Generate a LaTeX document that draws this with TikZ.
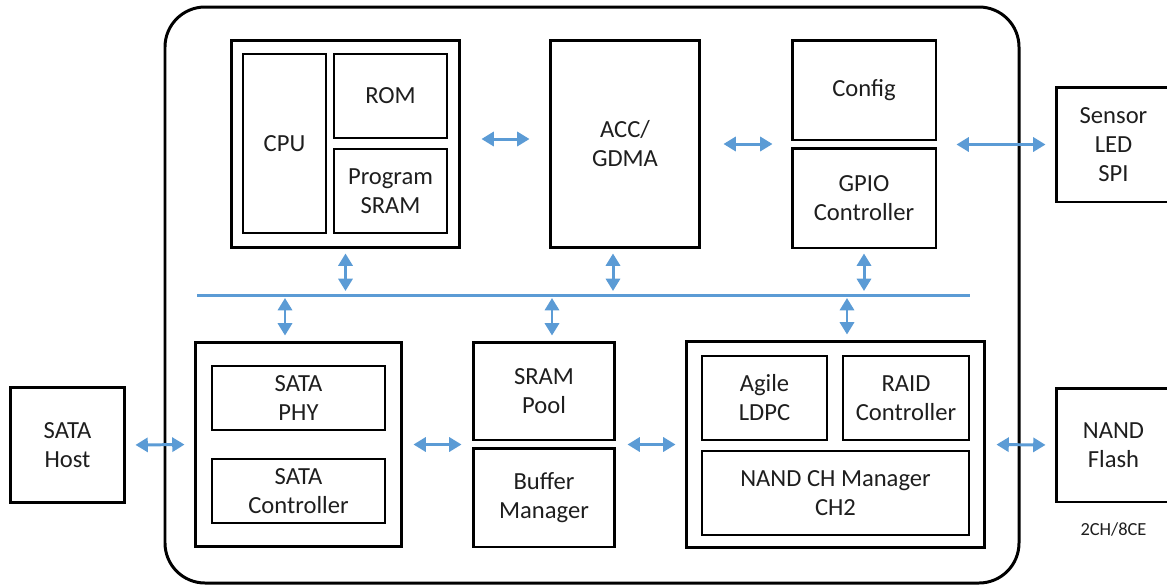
\documentclass[tikz,border=0pt]{standalone}
\usepackage{fontspec}
\setmainfont{Carlito}
\definecolor{busblue}{RGB}{91, 155, 213}
\definecolor{txtgray}{RGB}{30, 30, 30}
\usetikzlibrary{arrows.meta, positioning, calc}

\begin{document}
\begin{tikzpicture}[
  x=0.02cm, y=-0.02cm,
  box/.style={draw, line width=1.7pt, align=center, inner sep=0pt, text=txtgray, font=\fontsize{14}{16.5}\selectfont},
  inbox/.style={draw, line width=0.7pt, align=center, inner sep=0pt, text=txtgray, font=\fontsize{14}{16.5}\selectfont},
  link/.style={{Triangle[length=7pt, width=8pt]}-{Triangle[length=7pt, width=8pt]}, line width=1.7pt, busblue}
]
  \useasboundingbox (0,0) rectangle (1167,586);

  % Chip outline
  \draw[line width=1.7pt, rounded corners=0.8cm] (165,7) rectangle (1019,583);

  % Top row
  \node[box, minimum width=4.58cm, minimum height=4.16cm] (cpugrp) at (345.5,144) {};
  \node[inbox, minimum width=1.66cm, minimum height=3.58cm] (cpu) at (284.5,143.5) {CPU};
  \node[inbox, minimum width=2.26cm, minimum height=1.68cm] (rom) at (390.5,96) {ROM};
  \node[inbox, minimum width=2.26cm, minimum height=1.68cm] (psram) at (390.5,191) {Program\\SRAM};
  \node[box, minimum width=3cm, minimum height=4.16cm] (acc) at (625,144) {ACC/\\GDMA};
  \node[box, minimum width=2.88cm, minimum height=2cm] (config) at (864,90) {Config};
  \node[box, minimum width=2.88cm, minimum height=2cm] (gpio) at (864,198) {GPIO\\Controller};

  % Bus
  \coordinate (busL) at (197,295);
  \coordinate (busR) at (970,295);
  \draw[line width=1.7pt, busblue] (busL) -- (busR);

  % Bottom row
  \node[box, minimum width=4.14cm, minimum height=4.1cm] (satagrp) at (298.5,444.5) {};
  \node[inbox, minimum width=3.46cm, minimum height=1.28cm] (sataphy) at (298.5,398) {SATA\\PHY};
  \node[inbox, minimum width=3.46cm, minimum height=1.28cm] (satactl) at (298.5,491) {SATA\\Controller};
  \node[box, minimum width=2.84cm, minimum height=1.96cm] (srampool) at (544,391) {SRAM\\Pool};
  \node[box, minimum width=2.84cm, minimum height=1.98cm] (bufmgr) at (544,497.5) {Buffer\\Manager};
  \node[box, minimum width=5.98cm, minimum height=4.14cm] (nandgrp) at (835.5,444.5) {};
  \node[inbox, minimum width=2.5cm, minimum height=1.68cm] (ldpc) at (764.5,398) {Agile\\LDPC};
  \node[inbox, minimum width=2.52cm, minimum height=1.68cm] (raid) at (906,398) {RAID\\Controller};
  \node[inbox, minimum width=5.34cm, minimum height=1.68cm] (chmgr) at (835.5,493) {NAND CH Manager\\CH2};

  % Outside
  \node[box, minimum width=2.3cm, minimum height=2.3cm] (satahost) at (67.5,445) {SATA\\Host};
  \node[box, minimum width=2.3cm, minimum height=2.3cm] (sensor) at (1113.5,144.5) {Sensor\\LED\\SPI};
  \node[box, minimum width=2.3cm, minimum height=2.28cm] (nandflash) at (1113.5,445) {NAND\\Flash};
  \node[text=txtgray, font=\fontsize{10.5}{12}\selectfont, below=0.26cm of nandflash] (chce) {2CH/8CE};

  % Horizontal links
  \draw[link, shorten <=0.4cm, shorten >=0.38cm] ([yshift=0.1cm]cpugrp.east) -- ([yshift=0.1cm]acc.west);
  \draw[link, shorten <=0.44cm, shorten >=0.36cm] (acc.east) -- (acc.east -| gpio.west);
  \draw[link, shorten <=0.38cm, shorten >=0.18cm] (sensor.west -| gpio.east) -- (sensor.west);
  \draw[link, shorten <=0.18cm, shorten >=0.18cm] (satahost.east) -- (satagrp.west);
  \draw[link, shorten <=0.2cm, shorten >=0.2cm] (satagrp.east) -- (satagrp.east -| srampool.west);
  \draw[link, shorten <=0.22cm, shorten >=0.18cm] (nandgrp.west -| srampool.east) -- (nandgrp.west);
  \draw[link, shorten <=0.2cm, shorten >=0.18cm] (nandgrp.east) -- (nandflash.west);

  % Links to bus
  \draw[link, shorten <=0.08cm, shorten >=0.08cm] (cpugrp.south) -- (cpugrp.south |- busL);
  \draw[link, shorten <=0.08cm, shorten >=0.08cm] ([xshift=-0.24cm]acc.south) -- ([xshift=-0.24cm]acc.south |- busL);
  \draw[link, shorten <=0.08cm, shorten >=0.08cm] (gpio.south) -- (gpio.south |- busL);
  \draw[link, shorten <=0.06cm, shorten >=0.1cm] ([xshift=-0.27cm]satagrp.north |- busL) -- ([xshift=-0.27cm]satagrp.north);
  \draw[link, shorten <=0.06cm, shorten >=0.1cm] ([xshift=0.16cm]srampool.north |- busL) -- ([xshift=0.16cm]srampool.north);
  \draw[link, shorten <=0.06cm, shorten >=0.1cm] ([xshift=0.23cm]nandgrp.north |- busL) -- ([xshift=0.23cm]nandgrp.north);
\end{tikzpicture}
\end{document}
